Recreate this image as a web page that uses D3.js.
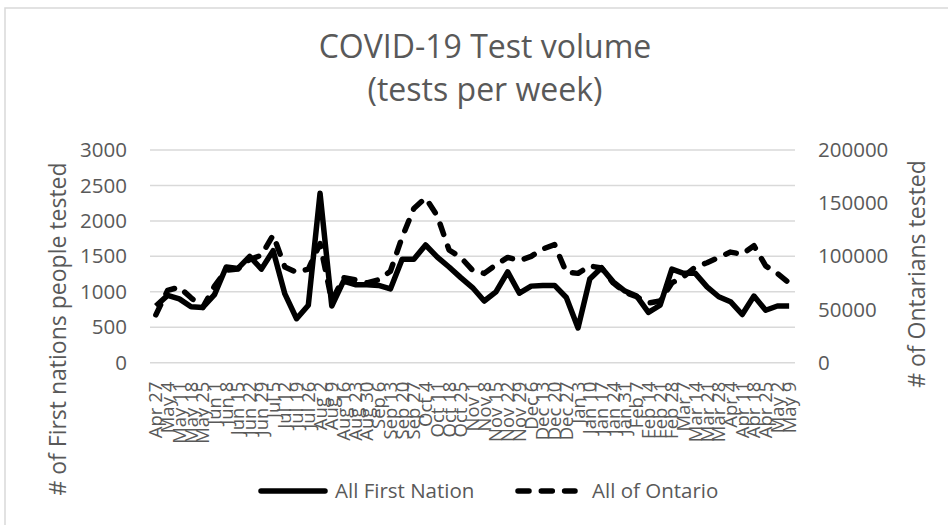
<!DOCTYPE html>
<html>
<head>
<meta charset="utf-8">
<script src="https://cdn.jsdelivr.net/npm/d3@7"></script>
<style>
  html, body { margin: 0; padding: 0; background: #fff; }
  #chart { width: 948px; height: 525px; }
  text { font-family: "Open Sans", "Noto Sans", sans-serif; fill: #595959; }
</style>
</head>
<body>
<div id="chart"></div>
<script>
// weekly labels
const weeks = ["Apr 27","May 4","May 11","May 18","May 25","Jun 1","Jun 8","Jun 15","Jun 22","Jun 29",
  "Jul 5","Jul 12","Jul 19","Jul 26","Aug 2","Aug 9","Aug 16","Aug 23","Aug 30","Sep 6","Sep 13",
  "Sep 20","Sep 27","Oct 4","Oct 11","Oct 18","Oct 25","Nov 1","Nov 8","Nov 15","Nov 22","Nov 29",
  "Dec 6","Dec 13","Dec 20","Dec 27","Jan 3","Jan 10","Jan 17","Jan 24","Jan 31","Feb 7","Feb 14",
  "Feb 21","Feb 28","Mar 7","Mar 14","Mar 21","Mar 28","Apr 4","Apr 11","Apr 18","Apr 25","May 2","May 9"];

// left axis series
const firstNation = [800,950,900,790,780,960,1350,1330,1500,1320,
  1580,970,620,810,2390,800,1150,1100,1100,1090,1040,
  1460,1460,1660,1490,1350,1200,1060,870,1000,1280,980,
  1080,1090,1090,920,490,1180,1340,1140,1010,940,710,
  810,1320,1260,1260,1070,930,860,680,940,740,800,800];

// right axis series
const ontario = [45000,68000,71000,61000,52000,72000,87000,88000,97000,101000,
  120000,90000,85000,88000,112000,58000,80000,78000,75000,78000,86000,
  118000,145000,155000,138000,106000,99000,87000,84000,92000,99000,96000,
  100000,107000,111000,85000,84000,91000,89000,75000,66000,62000,56000,
  58000,75000,81000,90000,94000,99000,104000,102000,110000,91000,84000,75000];

const leftTicks = [0,500,1000,1500,2000,2500,3000];
const rightTicks = [0,50000,100000,150000,200000];

const W = 948, H = 525;
const plot = { left: 150, right: 795, top: 150, bottom: 362.7 };

var svg = d3.select("#chart").append("svg")
  .attr("width", W).attr("height", H);

// outer chart frame
svg.append("rect")
  .attr("x", 5).attr("y", 8)
  .attr("width", W + 20).attr("height", H + 20)
  .attr("fill", "none").attr("stroke", "#d9d9d9").attr("stroke-width", 1.5);

var x = d3.scaleBand().domain(weeks).range([plot.left, plot.right]);
var yL = d3.scaleLinear().domain([0, 3000]).range([plot.bottom, plot.top]);
var yR = d3.scaleLinear().domain([0, 200000]).range([plot.bottom, plot.top]);
const cx = d => x(d) + x.bandwidth() / 2;

// gridlines
svg.append("g").selectAll("line")
  .data(leftTicks).join("line")
  .attr("x1", plot.left).attr("x2", plot.right)
  .attr("y1", d => yL(d)).attr("y2", d => yL(d))
  .attr("stroke", "#d9d9d9").attr("stroke-width", 1.5);

// left axis
var gl = svg.append("g")
  .attr("transform", `translate(${plot.left - 23},0)`)
  .call(d3.axisLeft(yL).tickValues(leftTicks).tickFormat(d3.format("d")).tickSize(0).tickPadding(0));
gl.select(".domain").remove();
gl.selectAll("text").style("font-size", "20.5px").attr("fill", "#595959");

// right axis
var gr = svg.append("g")
  .attr("transform", `translate(${plot.right + 23},0)`)
  .call(d3.axisRight(yR).tickValues(rightTicks).tickFormat(d3.format("d")).tickSize(0).tickPadding(0));
gr.select(".domain").remove();
gr.selectAll("text").style("font-size", "20.5px").attr("fill", "#595959");

// category labels, rotated
var gx = svg.append("g")
  .attr("transform", `translate(0,${plot.bottom + 19})`)
  .call(d3.axisBottom(x).tickSize(0).tickPadding(0));
gx.select(".domain").remove();
gx.selectAll("text")
  .style("font-size", "18.5px")
  .attr("fill", "#595959")
  .attr("text-anchor", "end")
  .attr("transform", "rotate(-90)")
  .attr("x", 0).attr("y", 0).attr("dy", "0.35em");

// lines
var lineL = d3.line().x((d, i) => cx(weeks[i])).y(d => yL(d));
var lineR = d3.line().x((d, i) => cx(weeks[i])).y(d => yR(d));

svg.append("path").datum(ontario)
  .attr("d", lineR)
  .attr("fill", "none").attr("stroke", "#000").attr("stroke-width", 5.5)
  .attr("stroke-dasharray", "11 12.3").attr("stroke-linecap", "round")
  .attr("stroke-linejoin", "round");

svg.append("path").datum(firstNation)
  .attr("d", lineL)
  .attr("fill", "none").attr("stroke", "#000").attr("stroke-width", 5.5)
  .attr("stroke-linejoin", "round");

// title
svg.append("text").attr("x", 485).attr("y", 58)
  .attr("text-anchor", "middle").style("font-size", "32px")
  .text("COVID-19 Test volume");
svg.append("text").attr("x", 485).attr("y", 101)
  .attr("text-anchor", "middle").style("font-size", "32px")
  .text("(tests per week)");

// axis titles
svg.append("text")
  .attr("transform", "translate(66,329) rotate(-90)")
  .attr("text-anchor", "middle").style("font-size", "23px")
  .text("# of First nations people tested");
svg.append("text")
  .attr("transform", "translate(925,274) rotate(-90)")
  .attr("text-anchor", "middle").style("font-size", "23px")
  .text("# of Ontarians tested");

// legend
const legendItems = [
  { name: "All First Nation", x: 258, dash: null },
  { name: "All of Ontario", x: 515, dash: "11 12.3" }
];
var lg = svg.append("g").selectAll("g").data(legendItems).join("g");
lg.append("line")
  .attr("x1", d => d.x + 3).attr("x2", d => d.x + (d.dash ? 60 : 67))
  .attr("y1", 491).attr("y2", 491)
  .attr("stroke", "#000").attr("stroke-width", 5.5).attr("stroke-linecap", "round")
  .attr("stroke-dasharray", d => d.dash);
lg.append("text")
  .attr("x", d => d.x + 77).attr("y", 491).attr("dy", "0.35em")
  .style("font-size", "20.5px")
  .text(d => d.name);
</script>
</body>
</html>
